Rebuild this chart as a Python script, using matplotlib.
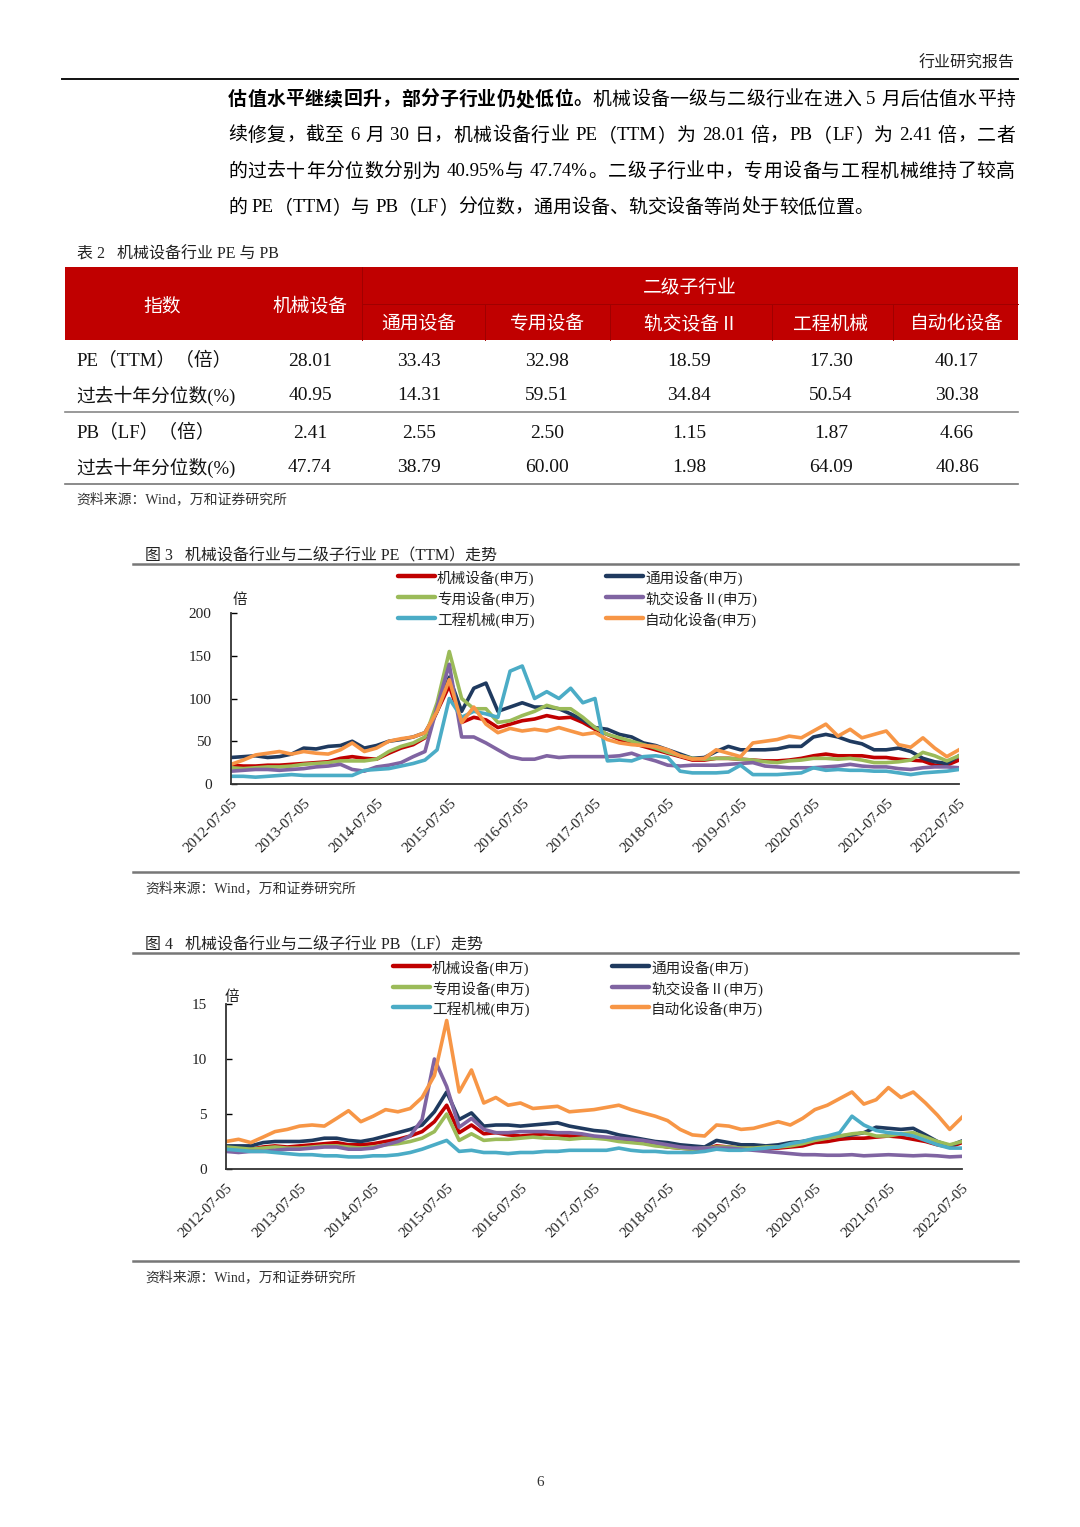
import re
import pandas as pd
import matplotlib
matplotlib.use("Agg")
import matplotlib.pyplot as plt
from matplotlib.lines import Line2D
from matplotlib.patches import Rectangle

W, H = 1080, 1527
SERIF = ['Liberation Serif', 'Noto Sans CJK SC']
SANS = ['Noto Sans CJK SC', 'DejaVu Sans']
plt.rcParams['font.family'] = SERIF

# ---------------- data ----------------
dates = pd.date_range('2012-07-05', periods=61, freq=pd.DateOffset(months=2))
x_tick_labels = ['2012-07-05', '2013-07-05', '2014-07-05', '2015-07-05', '2016-07-05',
                 '2017-07-05', '2018-07-05', '2019-07-05', '2020-07-05', '2021-07-05',
                 '2022-07-05']

names = ['机械设备(申万)', '通用设备(申万)', '专用设备(申万)',
         '轨交设备Ⅱ(申万)', '工程机械(申万)', '自动化设备(申万)']
colors = ['#C00000', '#1F3A5F', '#9BBB59', '#8064A2', '#4BACC6', '#F79646']

# PE (TTM), bi-monthly readings
pe_jx = [22, 21, 21, 22, 22, 23, 24, 25, 26, 30, 32, 30, 29, 36, 42, 46, 54, 85, 115, 72,
         78, 75, 66, 70, 74, 76, 80, 77, 78, 72, 64, 58, 52, 48, 44, 40, 36, 32, 28, 28,
         30, 30, 29, 28, 27, 27, 28, 30, 33, 35, 33, 33, 33, 31, 31, 29, 28, 27, 22, 22, 28]
pe_ty = [31, 32, 33, 31, 32, 35, 42, 41, 44, 45, 50, 42, 45, 50, 52, 55, 60, 85, 125, 85,
         112, 118, 85, 90, 95, 90, 90, 88, 82, 75, 66, 64, 58, 55, 48, 45, 40, 35, 30, 31,
         38, 44, 40, 40, 40, 41, 44, 44, 55, 58, 55, 50, 47, 40, 40, 42, 38, 30, 26, 24, 33]
pe_zy = [19, 18, 19, 20, 20, 21, 23, 24, 25, 27, 27, 27, 29, 38, 44, 48, 55, 95, 155, 100,
         88, 88, 72, 74, 80, 85, 92, 88, 88, 78, 66, 58, 54, 50, 46, 42, 37, 33, 30, 29,
         30, 30, 29, 28, 26, 25, 27, 28, 30, 30, 29, 30, 28, 25, 25, 26, 28, 37, 33, 27, 33]
pe_gj = [15, 16, 17, 17, 16, 17, 18, 20, 21, 23, 17, 15, 20, 22, 25, 32, 38, 90, 140, 55,
         55, 48, 40, 32, 29, 29, 33, 31, 32, 32, 32, 32, 33, 36, 31, 27, 22, 21, 22, 22,
         22, 23, 24, 25, 21, 20, 19, 19, 19, 20, 21, 23, 21, 20, 20, 18, 17, 19, 20, 20, 19]
pe_gc = [9, 9, 8, 9, 10, 11, 10, 10, 10, 10, 10, 16, 17, 18, 21, 24, 28, 40, 100, 78,
         85, 82, 78, 132, 138, 100, 108, 100, 112, 95, 100, 27, 28, 27, 32, 33, 31, 15, 13, 13,
         13, 14, 22, 11, 11, 11, 12, 13, 19, 16, 17, 16, 16, 15, 15, 13, 11, 13, 14, 15, 17]
pe_zdh = [23, 28, 34, 36, 38, 35, 38, 36, 35, 40, 48, 38, 42, 50, 53, 55, 60, 85, 122, 72,
          90, 70, 60, 65, 62, 64, 62, 66, 62, 58, 60, 52, 48, 46, 45, 44, 40, 33, 29, 30,
          40, 36, 32, 48, 50, 52, 56, 54, 62, 70, 56, 64, 54, 58, 62, 46, 43, 54, 42, 32, 40]

# PB (LF), bi-monthly readings
pb_jx = [1.9, 1.9, 1.8, 2.0, 2.1, 2.0, 2.1, 2.2, 2.3, 2.4, 2.2, 2.2, 2.3, 2.5, 2.7, 3.0,
         3.4, 4.3, 5.8, 3.3, 4.0, 3.2, 3.3, 3.1, 3.0, 3.1, 3.2, 3.1, 3.0, 3.0, 2.8, 2.8,
         2.6, 2.5, 2.4, 2.2, 2.0, 1.9, 1.8, 1.8, 2.1, 2.0, 1.9, 1.9, 1.9, 1.9, 2.0, 2.1,
         2.4, 2.5, 2.7, 2.8, 2.8, 2.9, 3.0, 2.9, 2.7, 2.5, 2.2, 2.0, 2.4]
pb_ty = [2.1, 2.1, 2.1, 2.4, 2.5, 2.5, 2.5, 2.6, 2.8, 2.8, 2.6, 2.5, 2.7, 3.0, 3.3, 3.6,
         4.0, 5.2, 7.0, 4.5, 5.1, 3.9, 4.0, 4.0, 3.9, 4.0, 4.1, 4.2, 3.9, 3.7, 3.5, 3.4,
         3.1, 2.9, 2.7, 2.5, 2.4, 2.2, 2.1, 2.0, 2.6, 2.4, 2.2, 2.2, 2.1, 2.2, 2.4, 2.5,
         2.7, 2.9, 3.0, 3.1, 3.3, 3.8, 3.7, 3.6, 3.7, 3.1, 2.5, 2.1, 2.55]
pb_zy = [2.0, 1.9, 1.8, 1.9, 2.0, 1.9, 1.9, 2.0, 2.1, 2.1, 2.0, 1.9, 2.0, 2.2, 2.3, 2.5,
         2.8, 3.4, 5.0, 2.6, 3.2, 2.6, 2.7, 2.7, 2.8, 2.9, 2.8, 2.8, 2.7, 2.8, 2.8, 2.7,
         2.5, 2.4, 2.3, 2.1, 2.0, 1.9, 1.8, 1.9, 2.0, 2.0, 1.9, 1.9, 2.0, 2.0, 2.1, 2.3,
         2.6, 2.8, 3.0, 3.2, 3.3, 3.0, 3.0, 3.2, 3.3, 2.9, 2.5, 2.2, 2.5]
pb_gj = [1.6, 1.5, 1.6, 1.6, 1.7, 1.8, 1.8, 1.9, 2.0, 2.0, 1.8, 1.8, 1.9, 2.2, 2.5, 3.0,
         4.5, 10.0, 7.5, 3.8, 4.6, 3.6, 3.3, 3.3, 3.4, 3.4, 3.4, 3.3, 3.3, 3.2, 3.0, 2.9,
         2.8, 2.7, 2.6, 2.4, 2.2, 2.0, 1.9, 1.9, 1.9, 1.9, 1.8, 1.7, 1.6, 1.5, 1.4, 1.3,
         1.3, 1.25, 1.25, 1.3, 1.2, 1.25, 1.3, 1.25, 1.2, 1.25, 1.2, 1.1, 1.15]
pb_gc = [1.8, 1.7, 1.6, 1.6, 1.5, 1.4, 1.3, 1.3, 1.2, 1.2, 1.1, 1.1, 1.2, 1.2, 1.3, 1.5,
         1.8, 2.2, 2.6, 1.6, 1.7, 1.5, 1.5, 1.4, 1.5, 1.5, 1.6, 1.6, 1.7, 1.7, 1.7, 1.7,
         1.9, 1.7, 1.6, 1.6, 1.5, 1.5, 1.5, 1.6, 1.8, 1.7, 1.7, 1.8, 1.9, 2.0, 2.3, 2.5,
         2.8, 3.0, 3.3, 4.8, 4.0, 3.5, 3.3, 3.2, 3.0, 2.6, 2.2, 1.9, 1.9]
pb_zdh = [2.5, 2.7, 2.4, 2.9, 3.4, 3.6, 3.9, 4.0, 3.9, 4.6, 5.3, 4.3, 4.8, 5.4, 5.2, 5.5,
          6.5, 8.5, 13.5, 7.0, 9.0, 6.0, 6.5, 5.8, 6.0, 5.5, 5.6, 5.7, 5.2, 5.3, 5.4, 5.6,
          5.8, 5.4, 5.1, 4.8, 4.4, 3.6, 3.1, 3.0, 4.0, 3.9, 3.6, 3.7, 4.0, 4.3, 4.0, 4.6,
          5.4, 5.8, 6.4, 7.0, 5.9, 6.3, 7.4, 6.5, 7.0, 6.0, 4.9, 3.6, 4.7]

pe_series = [pe_jx, pe_ty, pe_zy, pe_gj, pe_gc, pe_zdh]
pb_series = [pb_jx, pb_ty, pb_zy, pb_gj, pb_gc, pb_zdh]

# table
table_main = '机械设备'
table_subs = ['通用设备', '专用设备', '轨交设备 II', '工程机械', '自动化设备']
row_labels = ['PE（TTM）（倍）', '过去十年分位数(%)', 'PB（LF）（倍）', '过去十年分位数(%)']
pe_ttm = ['28.01', '33.43', '32.98', '18.59', '17.30', '40.17']
pe_pct = ['40.95', '14.31', '59.51', '34.84', '50.54', '30.38']
pb_lf = ['2.41', '2.55', '2.50', '1.15', '1.87', '4.66']
pb_pct = ['47.74', '38.79', '60.00', '1.98', '64.09', '40.86']

para_bold = '估值水平继续回升，部分子行业仍处低位。'
para_lines = ['机械设备一级与二级行业在进入 5 月后估值水平持',
              '续修复，截至 6 月 30 日，机械设备行业 PE（TTM）为 28.01 倍，PB（LF）为 2.41 倍，二者',
              '的过去十年分位数分别为 40.95%与 47.74%。二级子行业中，专用设备与工程机械维持了较高',
              '的 PE（TTM）与 PB（LF）分位数，通用设备、轨交设备等尚处于较低位置。']

# ---------------- page ----------------
fig = plt.figure(figsize=(W / 100, H / 100), dpi=100)
renderer = fig.canvas.get_renderer()


def fx(x):
    return x / W


def fy(y):
    return 1 - y / H


def put(x, y, s, size, **kw):
    # text centred on a page pixel row (small shift for CJK metrics)
    kw.setdefault('va', 'center')
    return fig.text(fx(x), fy(y + 2), s, fontsize=size, **kw)


def hline(x0, x1, y, color, lw):
    fig.add_artist(Line2D([fx(x0), fx(x1)], [fy(y), fy(y)], color=color, lw=lw))


def justify_line(x0, x1, y, segments, size):
    em = size * 100 / 72
    items = []
    for text, weight in segments:
        for tok in re.findall(r'[A-Za-z0-9.%]+| +|.', text):
            items.append((tok, weight))
    arts, widths = [], []
    for tok, weight in items:
        if tok.isspace():
            arts.append(None)
            widths.append(em * 0.25)
            continue
        t = put(0, y, tok, size, weight=weight)
        if ord(tok[0]) > 0x2E80:
            widths.append(em)
        else:
            widths.append(t.get_window_extent(renderer).width)
        arts.append(t)
    gap = 0 if x1 is None else (x1 - x0 - sum(widths)) / (len(items) - 1)
    x = x0
    for t, w in zip(arts, widths):
        if t is not None:
            t.set_x(fx(x))
        x += w + gap


# header
put(1015, 62, '行业研究报告', 11.5, ha='right', color='#222222')
hline(62, 1018, 79, '#111111', 1.4)

# paragraph
justify_line(228, 1015, 98, [(para_bold, 'bold'), (para_lines[0], 'normal')], 13.6)
justify_line(228, 1015, 134, [(para_lines[1], 'normal')], 13.6)
justify_line(228, 1015, 170, [(para_lines[2], 'normal')], 13.6)
justify_line(228, None, 206, [(para_lines[3], 'normal')], 13.6)

# table
put(77, 252, '表 2   机械设备行业 PE 与 PB', 11.5, color='#222222')
fig.add_artist(Rectangle((fx(65), fy(340)), fx(1018) - fx(65), fy(267) - fy(340),
                         facecolor='#C00000', edgecolor='none'))
fig.add_artist(Line2D([fx(362), fx(1018)], [fy(304), fy(304)], color='#A00000', lw=0.7))
fig.add_artist(Line2D([fx(362), fx(362)], [fy(267), fy(340)], color='#A00000', lw=0.7))
for xv in [485, 610, 772, 893]:
    fig.add_artist(Line2D([fx(xv), fx(xv)], [fy(304), fy(340)], color='#A00000', lw=0.7))
col_x = [310, 419, 547, 689, 831, 957]
put(162, 304, '指数', 13.5, ha='center', color='white', family=SANS)
put(col_x[0], 304, table_main, 13.5, ha='center', color='white', family=SANS)
put(690, 286, '二级子行业', 13.5, ha='center', color='white', family=SANS)
for xv, s in zip(col_x[1:], table_subs):
    put(xv, 322, s, 13.5, ha='center', color='white', family=SANS)

row_y = [359, 394, 431, 466]
for ry, lab, vals in zip(row_y, row_labels, [pe_ttm, pe_pct, pb_lf, pb_pct]):
    put(76, ry, lab, 13.5, color='#111111')
    for xv, v in zip(col_x, vals):
        put(xv, ry, v, 14, ha='center', color='#111111')
hline(65, 1018, 412, '#888888', 1.2)
hline(65, 1018, 484, '#777777', 1.2)
put(76, 497, '资料来源：Wind，万和证券研究所', 10, color='#333333')


# charts
def draw_chart(top, bottom, left, right, series, ylim, yticks, cap_y, cap, leg_x, leg_y,
               unit_xy, line_top, line_bottom, src_y):
    put(145, cap_y, cap, 11.5, color='#222222')
    hline(133, 1018, line_top, '#777777', 1.8)
    hline(133, 1018, line_bottom, '#777777', 1.8)
    put(145, src_y, '资料来源：Wind，万和证券研究所', 10, color='#333333')
    put(unit_xy[0], unit_xy[1], '倍', 10.5, ha='center', color='#222222')

    ax = fig.add_axes([fx(left), fy(bottom), fx(right) - fx(left), fy(top) - fy(bottom)])
    for vals, c in zip(series, colors):
        ax.plot(dates, vals, color=c, lw=2.6, solid_joinstyle='round')
    ax.set_xlim(dates[0], dates[-1])
    ax.set_ylim(*ylim)
    ax.set_yticks(yticks)
    ax.set_yticklabels([str(v) for v in yticks])
    ax.set_xticks(pd.to_datetime(x_tick_labels))
    ax.set_xticklabels(x_tick_labels, rotation=45, ha='right', rotation_mode='anchor')
    ax.tick_params(axis='x', length=0, pad=9, labelsize=10.8, labelcolor='#222222')
    ax.tick_params(axis='y', direction='in', length=4, width=1, pad=14, labelsize=11,
                   labelcolor='#222222')
    for side in ['top', 'right']:
        ax.spines[side].set_visible(False)
    for side in ['left', 'bottom']:
        ax.spines[side].set_color('#333333')
        ax.spines[side].set_linewidth(1.3)
    ax.patch.set_alpha(0)

    for k, (name, c) in enumerate(zip(names, colors)):
        x0 = leg_x[k % 2]
        y0 = leg_y[k // 2]
        fig.add_artist(Line2D([fx(x0), fx(x0 + 37)], [fy(y0), fy(y0)], color=c, lw=3.2,
                              solid_capstyle='round'))
        put(x0 + 39, y0, name, 10.5, color='#222222')
    return ax


draw_chart(613, 784, 231, 959, pe_series, (0, 200), [0, 50, 100, 150, 200], 553,
           '图 3   机械设备行业与二级子行业 PE（TTM）走势', [398, 606], [576, 597, 618],
           (240, 598), 564, 872, 886)
draw_chart(1004, 1169, 226, 962, pb_series, (0, 15), [0, 5, 10, 15], 942,
           '图 4   机械设备行业与二级子行业 PB（LF）走势', [393, 612], [966, 987, 1007],
           (232, 995), 953, 1261, 1275)

put(540, 1480, '6', 11, ha='center', color='#333333')

fig.savefig('out.png', dpi=100, facecolor='white')
